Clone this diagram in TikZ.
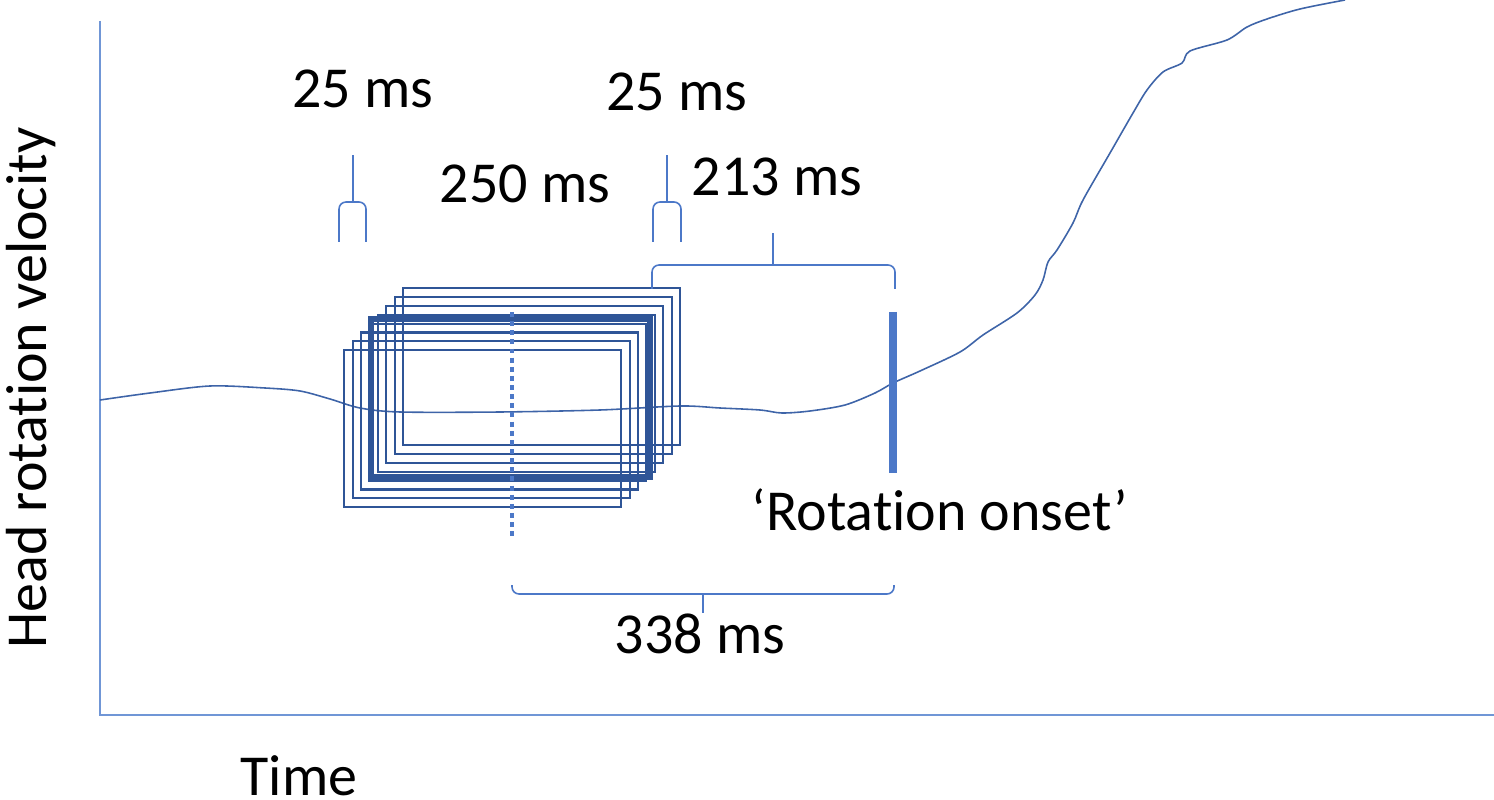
\documentclass[tikz,border=0pt]{standalone}
\usepackage{fontspec}
\setmainfont{Carlito}[Ligatures=NoCommon]
\usetikzlibrary{positioning}
\definecolor{axisblue}{RGB}{112,150,214}
\definecolor{traceblue}{RGB}{62,100,168}
\definecolor{boxblue}{RGB}{47,85,151}
\definecolor{braceblue}{RGB}{76,120,200}
\tikzstyle{axisline} = [draw=axisblue, line width=1.1pt]
\tikzstyle{velocity} = [draw=traceblue, line width=0.9pt]
\tikzstyle{window} = [draw=boxblue, line width=1.2pt]
\tikzstyle{mainwindow} = [draw=boxblue, line width=3.6pt]
\tikzstyle{brace} = [draw=braceblue, line width=0.9pt, rounded corners=4pt]
\tikzstyle{mslabel} = [anchor=base, inner sep=0pt, font=\fontsize{33}{40}\selectfont]
% x-left, x-right, x-stem, y-bar, y-legs, y-stem
\newcommand\msbrace[6]{%
	\draw[brace] (#1,#5) -- (#1,#4) -- (#2,#4) -- (#2,#5);
	\draw[brace] (#3,#4) -- (#3,#6);}
\begin{document}
\begin{tikzpicture}[x=0.02cm, y=-0.02cm]
\useasboundingbox (0,0) rectangle (1494,800);

% Axes and velocity trace
\draw[axisline] (100,21) -- (100,715) -- (1494,715);
\draw[velocity] plot[smooth, tension=0.5] coordinates {(100,400) (150,393) (210,386) (265,388) (300,391) (330,399) (360,408) (400,412) (500,412) (600,410) (680,406) (720,408) (760,410) (782,413) (810,411) (845,405) (875,393) (893,383) (920,371) (960,352) (983,335) (1017,313) (1035,295) (1043,280) (1048,262) (1057,250) (1073,223) (1083,200) (1110,153) (1133,113) (1147,90) (1163,72) (1182,63) (1190,51) (1227,40) (1247,27) (1267,19) (1300,9) (1345,0)};

% Sliding windows
\foreach \k in {0,...,7}
	\draw[window] (403-8.4*\k,288+8.9*\k) rectangle ++(277,157);
\draw[mainwindow] (371,319) rectangle ++(279,158);
\draw[draw=braceblue, line width=2pt, dash pattern=on 2.8pt off 2.4pt] (512,312) -- (512,537);
\draw[draw=braceblue, line width=4.5pt] (893,312) -- (893,473);

% Braces
\msbrace{339}{366}{353}{202}{242}{155}
\msbrace{653}{681}{667}{202}{242}{155}
\msbrace{652}{895}{773}{265}{289}{233}
\msbrace{512}{894}{703}{594}{585}{613}

% Labels
\node (ms25a) [mslabel] at (363,108) {25 ms};
\node (ms25b) [mslabel] at (677,111) {25 ms};
\node (ms250) [mslabel] at (525,203) {250 ms};
\node (ms213) [mslabel] at (777,196) {213 ms};
\node (ms338) [mslabel] at (700,653) {338 ms};
\node (onset) [mslabel] at (940,530) {‘Rotation onset’};
\node (timelbl) [mslabel] at (299,795) {Time};
\node (ylbl) [mslabel, rotate=90] at (46,388) {Head rotation velocity};

\end{tikzpicture}
\end{document}
